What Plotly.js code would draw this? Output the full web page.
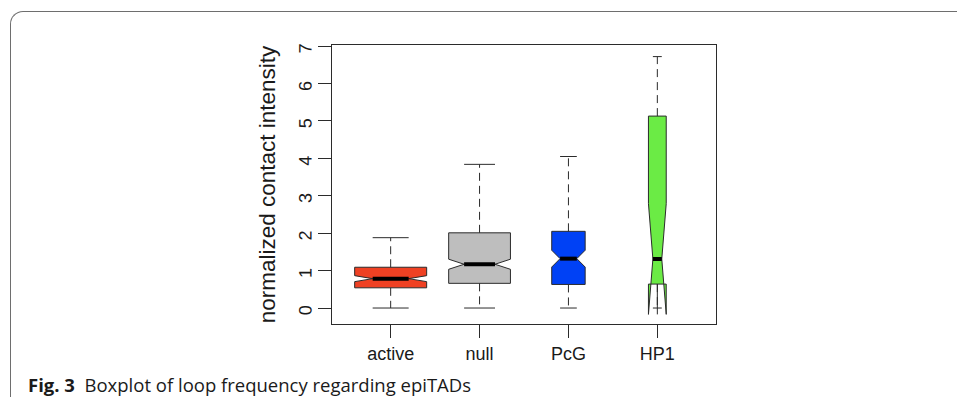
<!DOCTYPE html>
<html>
<head>
<meta charset="utf-8">
<script src="https://cdn.plot.ly/plotly-3.0.1.min.js"></script>
<style>
  html, body { margin: 0; padding: 0; background: #fff; }
  #wrap { position: relative; width: 957px; height: 397px; overflow: hidden; }
  #chart { position: absolute; left: 0; top: 0; width: 957px; height: 397px; }
  #frame { position: absolute; left: 10px; top: 11px; width: 1200px; height: 600px;
           border-top: 1.6px solid #6e6e6e; border-left: 1.6px solid #6e6e6e;
           border-top-left-radius: 13px; pointer-events: none; }
</style>
</head>
<body>
<div id="wrap">
  <div id="chart"></div>
  <div id="frame"></div>
</div>
<script>
// ---- data ----
const categories   = ["active", "null", "PcG", "HP1"];
const lowerWhisker = [0.00, 0.00, 0.00, 0.00];
const q1Values     = [0.54, 0.66, 0.63, 0.64];
const medianValues = [0.785, 1.17, 1.32, 1.31];
const q3Values     = [1.09, 2.01, 2.05, 5.13];
const upperWhisker = [1.88, 3.84, 4.05, 6.72];
const notchSpans   = [0.08, 0.135, 0.225, 1.48];
const yTickValues  = [0, 1, 2, 3, 4, 5, 6, 7];

// ---- styles ----
const fillColors = ["#EF4123", "#BEBEBE", "#0041F5", "#6BEB45"];
const boxWidths  = [0.81, 0.695, 0.376, 0.2];   // varwidth-like box widths (data units)
const edge = "#2b2b2b";
const axisFont = "Liberation Sans, Arial, Helvetica, sans-serif";

const traces = [];
categories.forEach((c, i) => {
  const p = i + 1, w = boxWidths[i];
  traces.push({
    type: "box", name: c, x: [p],
    q1: [q1Values[i]], median: [medianValues[i]], q3: [q3Values[i]],
    lowerfence: [q1Values[i]], upperfence: [q3Values[i]],
    notchspan: [notchSpans[i]], notched: true, notchwidth: 0.25,
    width: w, whiskerwidth: 0, boxpoints: false,
    fillcolor: fillColors[i], line: { color: edge, width: 1 },
    hoverinfo: "skip", showlegend: false
  });
});
categories.forEach((c, i) => {
  const p = i + 1, w = boxWidths[i];
  // dashed whiskers
  traces.push({
    type: "scatter", mode: "lines", hoverinfo: "skip", showlegend: false,
    x: [p, p, null, p, p],
    y: [q3Values[i], upperWhisker[i], null, q1Values[i], lowerWhisker[i]],
    line: { color: edge, width: 1, dash: "8px,5px" }
  });
  // staples
  traces.push({
    type: "scatter", mode: "lines", hoverinfo: "skip", showlegend: false,
    x: [p - w / 4, p + w / 4, null, p - w / 4, p + w / 4],
    y: [upperWhisker[i], upperWhisker[i], null, lowerWhisker[i], lowerWhisker[i]],
    line: { color: edge, width: 1 }
  });
  // thick median
  traces.push({
    type: "scatter", mode: "lines", hoverinfo: "skip", showlegend: false,
    x: [p - w / 4, p + w / 4],
    y: [medianValues[i], medianValues[i]],
    line: { color: "#000", width: 4 }
  });
});

const L = 332, R = 716, T = 45, B = 324;
const layout = {
  width: 957, height: 397,
  margin: { l: L, r: 957 - R, t: T, b: 397 - B, pad: 0 },
  paper_bgcolor: "rgba(0,0,0,0)", plot_bgcolor: "#fff",
  showlegend: false, boxmode: "overlay",
  font: { family: axisFont, color: "#1a1a1a" },
  xaxis: {
    range: [0.34, 4.66], tickmode: "array", tickvals: [1, 2, 3, 4], ticktext: categories,
    ticks: "outside", ticklen: 13, tickwidth: 1, tickcolor: edge,
    showline: true, linecolor: edge, linewidth: 1, mirror: true,
    showgrid: false, zeroline: false, fixedrange: true,
    tickfont: { size: 18, family: axisFont, color: "#1a1a1a" },
    ticklabelstandoff: 0
  },
  yaxis: {
    range: [-0.427, 7.03], tickmode: "array", tickvals: yTickValues,
    ticktext: yTickValues.map(String),
    ticks: "outside", ticklen: 13, tickwidth: 1, tickcolor: edge, tickangle: -89.9,
    showline: true, linecolor: edge, linewidth: 1, mirror: true,
    showgrid: false, zeroline: false, fixedrange: true,
    tickfont: { size: 18, family: axisFont, color: "#1a1a1a" },
    ticklabelstandoff: 12,
    title: { text: "normalized contact intensity", standoff: 13,
             font: { size: 22.5, family: axisFont, color: "#1a1a1a" } }
  },
  annotations: [{
    xref: "paper", yref: "paper",
    x: (26 - L) / (R - L), y: (B - 384) / (B - T),
    xanchor: "left", yanchor: "middle", showarrow: false,
    text: "<b>Fig. 3</b>  Boxplot of loop frequency regarding epiTADs",
    font: { family: "Open Sans, Noto Sans, sans-serif", size: 18.5, color: "#1a1a1a" }
  }]
};

Plotly.newPlot("chart", traces, layout, { displayModeBar: false, staticPlot: true });
</script>
</body>
</html>
